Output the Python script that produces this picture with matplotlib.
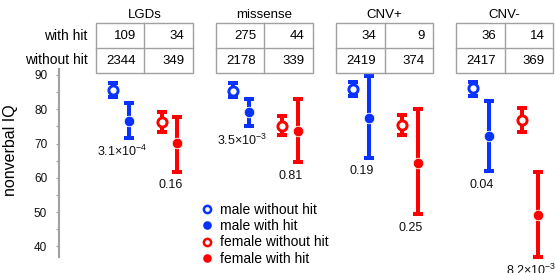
import matplotlib
matplotlib.use("Agg")
import matplotlib.pyplot as plt
from matplotlib.transforms import blended_transform_factory, offset_copy
from matplotlib.lines import Line2D
from matplotlib.patches import Rectangle

plt.rcParams['font.family'] = ['Liberation Sans', 'DejaVu Sans']
plt.rcParams['mathtext.default'] = 'regular'

# ---------------- data ----------------
groups = ['LGDs', 'missense', 'CNV+', 'CNV-']
male_with_n = [109, 275, 34, 36]
female_with_n = [34, 44, 9, 14]
male_without_n = [2344, 2178, 2419, 2417]
female_without_n = [349, 339, 374, 369]

male_without_mean = [85.6, 85.4, 85.9, 86.1]
male_without_lo = [83.5, 83.5, 84.0, 83.9]
male_without_hi = [87.8, 87.7, 88.1, 87.9]

male_with_mean = [76.7, 79.3, 77.4, 72.3]
male_with_lo = [71.6, 75.0, 65.8, 61.9]
male_with_hi = [81.8, 82.9, 89.7, 82.5]

female_without_mean = [76.4, 75.2, 75.5, 76.9]
female_without_lo = [73.5, 72.6, 72.6, 73.5]
female_without_hi = [79.3, 78.1, 78.4, 80.3]

female_with_mean = [70.1, 73.8, 64.3, 49.3]
female_with_lo = [61.8, 64.5, 49.4, 37.0]
female_with_hi = [77.7, 83.0, 80.1, 61.6]

male_pvals = [r'3.1×10$^{-4}$', r'3.5×10$^{-3}$', '0.19', '0.04']
female_pvals = ['0.16', '0.81', '0.25', r'8.2×10$^{-3}$']

yticks = [40, 50, 60, 70, 80, 90]

BLUE = '#0a32ff'
RED = '#ff0000'
GREY = '#a0a0a0'

# ---------------- layout ----------------
W, H = 555, 273
fig = plt.figure(figsize=(W / 100, H / 100), dpi=100)
ax_left, ax_right, ax_top, ax_bot = 59, 555, 69, 256.7
ax = fig.add_axes([ax_left / W, (H - ax_bot) / H, (ax_right - ax_left) / W, (ax_bot - ax_top) / H])
ax.set_ylim(37.0, 91.75)
unit = 120.07
x0 = 112.7
ax.set_xlim((ax_left - x0) / unit, (ax_right - x0) / unit)

offsets = [0.0, 16.25 / unit, 48.9 / unit, 64.75 / unit]

series = [
    (male_without_mean, male_without_lo, male_without_hi, BLUE, False),
    (male_with_mean, male_with_lo, male_with_hi, BLUE, True),
    (female_without_mean, female_without_lo, female_without_hi, RED, False),
    (female_with_mean, female_with_lo, female_with_hi, RED, True),
]

for si, (mean, lo, hi, col, filled) in enumerate(series):
    xs = [g + offsets[si] for g in range(len(groups))]
    yerr = [[m - l for m, l in zip(mean, lo)], [h - m for m, h in zip(mean, hi)]]
    ax.errorbar(xs, mean, yerr=yerr, fmt='none', ecolor=col, elinewidth=2.9,
                capsize=3.6, capthick=2.9, zorder=2, clip_on=False)
    if filled:
        ax.plot(xs, mean, 'o', ms=7.6, mfc=col, mec='white', mew=0.6, zorder=3, clip_on=False)
    else:
        ax.plot(xs, mean, 'o', ms=6.6, mfc='white', mec=col, mew=2.1, zorder=3, clip_on=False)

# p-value labels under "with hit" bars
for si, pv, lo in [(1, male_pvals, male_with_lo), (3, female_pvals, female_with_lo)]:
    for g in range(len(groups)):
        tr = offset_copy(ax.transData, fig=fig, x=-7 * 0.72, y=-13.5 * 0.72, units='points')
        ax.text(g + offsets[si], lo[g], pv[g], transform=tr, ha='center', va='center',
                fontsize=9, color='#111111', clip_on=False)

# axes styling
for s in ['top', 'right', 'bottom']:
    ax.spines[s].set_visible(False)
ax.spines['left'].set_color(GREY)
ax.spines['left'].set_linewidth(1.5)
ax.set_xticks([])
ax.set_yticks(yticks)
ax.set_yticks([35 + 5 * i for i in range(1, 12) if (35 + 5 * i) % 10 == 5], minor=True)
ax.tick_params(axis='y', which='both', direction='out', length=2.5, width=0.8, color=GREY,
               labelsize=8.5, pad=6, labelcolor='#111111')
ax.set_ylabel('nonverbal IQ', fontsize=11.5)
ax.yaxis.set_label_coords(18.5 / W, 1 - 150 / H, transform=fig.transFigure)

# ---------------- count tables ----------------
bt = blended_transform_factory(ax.transData, fig.transFigure)
tab_left = -17 / unit
tab_w = 97.4 / unit
y_top, y_mid, y_bot = 1 - 23.3 / H, 1 - 48.3 / H, 1 - 72.7 / H
pad = 8.5 / unit
for g, name in enumerate(groups):
    L = g + tab_left
    rect = Rectangle((L, y_bot), tab_w, y_top - y_bot, transform=bt, fill=False,
                     edgecolor=GREY, lw=1.0, clip_on=False)
    fig.add_artist(rect)
    fig.add_artist(Line2D([L, L + tab_w], [y_mid, y_mid], transform=bt, color=GREY, lw=1.0))
    fig.add_artist(Line2D([L + tab_w / 2, L + tab_w / 2], [y_bot, y_top], transform=bt, color=GREY, lw=1.0))
    fig.text(L + tab_w / 2, 1 - 15 / H, name, transform=bt, ha='center', va='center', fontsize=9.5)
    r1 = (y_top + y_mid) / 2
    r2 = (y_mid + y_bot) / 2
    fig.text(L + tab_w / 2 - pad, r1, str(male_with_n[g]), transform=bt, ha='right', va='center', fontsize=9.5)
    fig.text(L + tab_w - pad, r1, str(female_with_n[g]), transform=bt, ha='right', va='center', fontsize=9.5)
    fig.text(L + tab_w / 2 - pad, r2, str(male_without_n[g]), transform=bt, ha='right', va='center', fontsize=9.5)
    fig.text(L + tab_w - pad, r2, str(female_without_n[g]), transform=bt, ha='right', va='center', fontsize=9.5)

fig.text(87.3 / W, 1 - 36 / H, 'with hit', ha='right', va='center', fontsize=10)
fig.text(87.3 / W, 1 - 60 / H, 'without hit', ha='right', va='center', fontsize=10)

# ---------------- legend ----------------
handles = [
    Line2D([], [], ls='none', marker='o', ms=5.2, mfc='white', mec=BLUE, mew=1.8),
    Line2D([], [], ls='none', marker='o', ms=6.2, mfc=BLUE, mec=BLUE, mew=0),
    Line2D([], [], ls='none', marker='o', ms=5.2, mfc='white', mec=RED, mew=1.8),
    Line2D([], [], ls='none', marker='o', ms=6.2, mfc=RED, mec=RED, mew=0),
]
labels = ['male without hit', 'male with hit', 'female without hit', 'female with hit']
fig.legend(handles, labels, loc='upper left', bbox_to_anchor=(203 / W, 1 - 202.5 / H),
           frameon=False, fontsize=10, handlelength=0.6, handletextpad=0.6,
           labelspacing=0.18, borderpad=0, borderaxespad=0)

fig.savefig('out.png', dpi=100)
